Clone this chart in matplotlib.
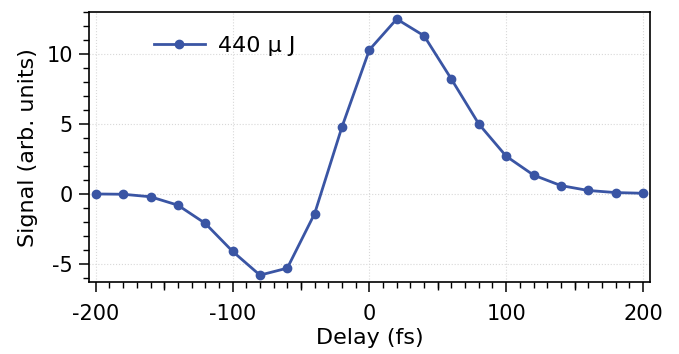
import matplotlib
matplotlib.use("Agg")
import matplotlib.pyplot as plt
from matplotlib.ticker import MultipleLocator, FuncFormatter

delay = [-200, -180, -160, -140, -120, -100, -80, -60, -40, -20, 0,
         20, 40, 60, 80, 100, 120, 140, 160, 180, 200]
signal = [0.0, -0.02, -0.2, -0.8, -2.1, -4.1, -5.8, -5.3, -1.4, 4.8, 10.3,
          12.5, 11.3, 8.2, 5.0, 2.7, 1.35, 0.6, 0.25, 0.1, 0.05]
label = "440 µ J"
color = "#3a55a4"
mid_ticks = [-150, -50, 50, 150]

plt.rcParams['font.family'] = ['DejaVu Sans']
fig = plt.figure(figsize=(6.79, 3.54), dpi=100)
ax = fig.add_axes([0.131, 0.203, 0.826, 0.763])
ax.plot(delay, signal, '-o', color=color, lw=2, ms=6, label=label, zorder=3)
ax.set_xlim(-205, 205)
ax.set_ylim(-6.3, 13.0)
ax.xaxis.set_major_locator(MultipleLocator(100))
ax.xaxis.set_minor_locator(MultipleLocator(10))
ax.yaxis.set_major_locator(MultipleLocator(5))
ax.yaxis.set_minor_locator(MultipleLocator(1))
ax.grid(True, which='major', color='#d8d8d8', ls=':', lw=0.8)
ax.tick_params(which='major', direction='out', length=7.5, width=1.1, labelsize=15, colors='black')
ax.tick_params(which='minor', direction='out', length=4.5, width=1.0)
ax.tick_params(axis='x', which='major', pad=8)
ax.tick_params(axis='y', which='major', pad=4)
sec = ax.secondary_xaxis('bottom')
sec.set_xticks(mid_ticks)
sec.tick_params(direction='out', length=6, width=1.0, labelbottom=False)
sec.spines['bottom'].set_visible(False)
for s in ax.spines.values():
    s.set_linewidth(1.2)
ax.set_xlabel("Delay (fs)", fontsize=16, labelpad=3)
ax.set_ylabel("Signal (arb. units)", fontsize=16, labelpad=6)
ax.xaxis.set_major_formatter(FuncFormatter(lambda v, p: f"{int(v)}"))
ax.yaxis.set_major_formatter(FuncFormatter(lambda v, p: f"{int(v)}"))
ax.legend(loc='upper left', bbox_to_anchor=(0.08, 0.985), frameon=False, fontsize=16,
          handlelength=2.3, handletextpad=0.6)
fig.savefig("out.png", dpi=100)
